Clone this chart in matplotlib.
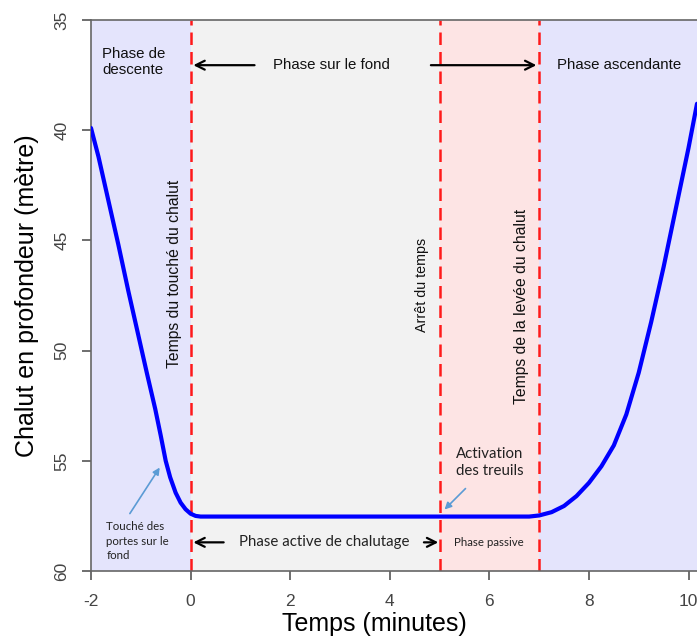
import matplotlib
matplotlib.use("Agg")
import matplotlib.pyplot as plt

plt.rcParams['font.family'] = ['Liberation Sans', 'DejaVu Sans']
plt.rcParams['axes.unicode_minus'] = False

# ---- data ----
time_min = [-2.0, -1.85, -1.65, -1.45, -1.25, -1.05, -0.88, -0.71, -0.6, -0.5,
            -0.41, -0.3, -0.2, -0.1, 0.0, 0.1, 0.2, 1.0, 2.0, 3.0, 4.0, 5.0,
            6.0, 6.8, 7.0, 7.25, 7.5, 7.75, 8.0, 8.25, 8.5, 8.75, 9.0, 9.25,
            9.5, 9.75, 10.0, 10.17]
depth_m = [39.9, 41.2, 43.2, 45.2, 47.3, 49.3, 51.0, 52.65, 53.85, 55.0,
           55.75, 56.45, 56.9, 57.2, 57.4, 57.5, 57.53, 57.53, 57.53, 57.53,
           57.53, 57.53, 57.53, 57.53, 57.48, 57.33, 57.05, 56.6, 56.0, 55.25,
           54.3, 52.9, 51.0, 48.7, 46.2, 43.5, 40.8, 38.8]

phase_bounds = [-2, 0, 5, 7, 10.17]
phase_colors = ['#e4e4fc', '#f2f2f2', '#fde4e4', '#e4e4fc']
event_times = [0, 5, 7]
x_ticks = [-2, 0, 2, 4, 6, 8, 10]
y_ticks = [35, 40, 45, 50, 55, 60]

fig = plt.figure(figsize=(6.97, 6.41), dpi=100)
ax = fig.add_axes([91/697, 70/641, 606/697, 551/641])

for i, c in enumerate(phase_colors):
    ax.axvspan(phase_bounds[i], phase_bounds[i+1], color=c, lw=0, zorder=0)

for t in event_times:
    ax.axvline(t, color='#ff1a1a', lw=1.8, linestyle=(0, (5, 2.8)), zorder=2)

ax.plot(time_min, depth_m, color='#0000ff', lw=3.0, zorder=3,
        solid_capstyle='round', solid_joinstyle='round')

ax.set_xlim(-2, 10.17)
ax.set_ylim(60, 35)
ax.set_xticks(x_ticks)
ax.set_yticks(y_ticks)
ax.tick_params(axis='both', colors='#555555', labelcolor='#444444', labelsize=12.5,
               length=6.5, width=1.2, direction='out')
ax.tick_params(axis='x', pad=10)
ax.tick_params(axis='y', pad=9)
for lab in ax.get_yticklabels():
    lab.set_rotation(90)
    lab.set_va('center')

for s in ['left', 'bottom', 'top']:
    ax.spines[s].set_color('#666666')
    ax.spines[s].set_linewidth(1.2)
ax.spines['right'].set_visible(False)

ax.set_xlabel('Temps (minutes)', fontsize=18)
ax.set_ylabel('Chalut en profondeur (mètre)', fontsize=18)
ax.xaxis.set_label_coords(0.468, -0.075)
ax.yaxis.set_label_coords(-0.085, 0.5)

# ---- annotations ----
tk = dict(color='#111111', fontsize=10.8)
ax.text(-1.77, 36.9, 'Phase de\ndescente', ha='left', va='center', linespacing=1.25, **tk)
ax.text(2.82, 37.05, 'Phase sur le fond', ha='center', va='center', **tk)
ax.text(7.36, 37.05, 'Phase ascendante', ha='left', va='center', **tk)
arr = dict(arrowstyle='->', color='black', lw=1.6, mutation_scale=16)
ax.annotate('', xy=(0.0, 37.05), xytext=(1.34, 37.05), arrowprops=arr)
ax.annotate('', xy=(7.0, 37.05), xytext=(4.77, 37.05), arrowprops=arr)

ax.text(-0.33, 46.5, 'Temps du touché du chalut', rotation=90, ha='center', va='center',
        color='#111111', fontsize=11.3)
ax.text(4.64, 47.0, 'Arrêt du temps', rotation=90, ha='center', va='center',
        color='#111111', fontsize=10.3)
ax.text(6.65, 48.0, 'Temps de la levée du chalut', rotation=90, ha='center', va='center',
        color='#111111', fontsize=11.3)

small = dict(family=['Lato', 'DejaVu Sans'], color='#222222')
ax.text(-1.69, 58.64, 'Touché des\nportes sur le\nfond', ha='left', va='center',
        fontsize=8.3, linespacing=1.35, **small)
ax.text(0.97, 58.7, 'Phase active de chalutage', ha='left', va='center', fontsize=10.8, **small)
ax.text(6.0, 58.72, 'Phase passive', ha='center', va='center', fontsize=8.3, **small)
ax.text(6.0, 55.08, 'Activation\ndes treuils', ha='center', va='center', fontsize=10.8,
        linespacing=1.25, **small)
ax.annotate('', xy=(0.0, 58.7), xytext=(0.72, 58.7), arrowprops=arr)
ax.annotate('', xy=(5.03, 58.7), xytext=(4.63, 58.7), arrowprops=arr)

blue_arr = dict(arrowstyle='-|>', color='#5b9bd5', lw=1.2, mutation_scale=10)
ax.annotate('', xy=(-0.59, 55.2), xytext=(-1.25, 57.5), arrowprops=blue_arr)
ax.annotate('', xy=(5.06, 57.3), xytext=(5.56, 56.17), arrowprops=blue_arr)

fig.savefig('out.png', dpi=100)
